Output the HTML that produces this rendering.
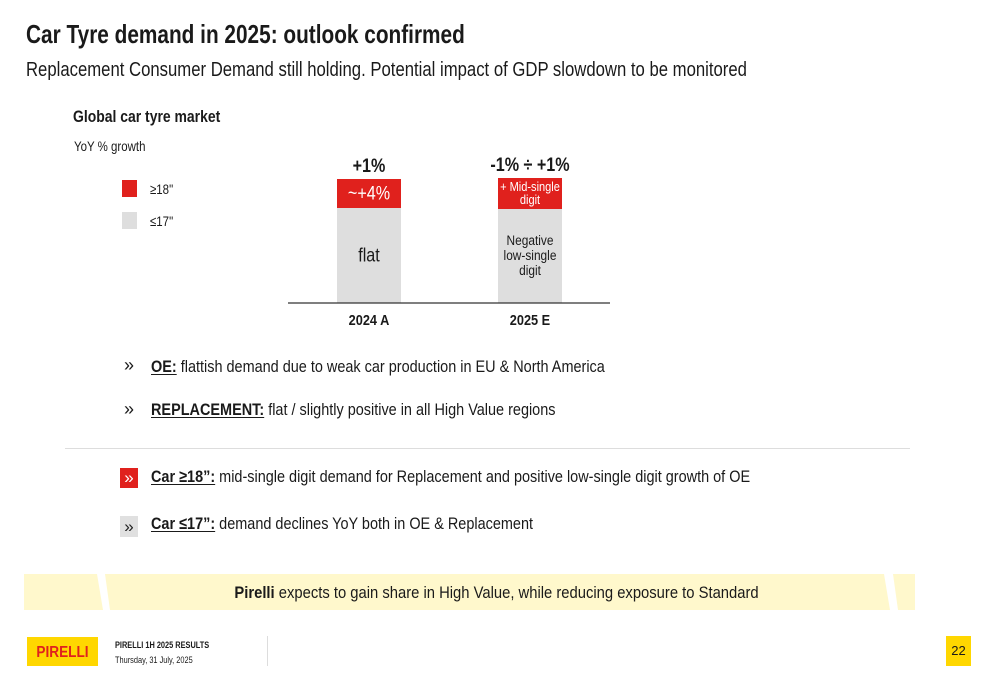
<!DOCTYPE html>
<html><head><meta charset="utf-8"><style>
*{margin:0;padding:0;box-sizing:border-box}
body{width:1000px;height:685px;background:#fff;position:relative;overflow:hidden;font-family:"Liberation Sans",sans-serif;color:#1a1a1a}
.a{position:absolute;white-space:nowrap}
.n{transform:scaleX(0.82);transform-origin:0 0}
.b{transform:scaleX(0.85);transform-origin:0 0}
.nc{transform:scaleX(0.85);transform-origin:50% 0}
u{text-decoration-thickness:1px;text-underline-offset:2px}
</style></head><body>
<div class="a n" style="left:26px;top:19px;font-size:26px;font-weight:bold;transform:scaleX(0.8)">Car Tyre demand in 2025: outlook confirmed</div>
<div class="a n" style="left:26px;top:59px;font-size:20px;transform:scaleX(0.835)">Replacement Consumer Demand still holding. Potential impact of GDP slowdown to be monitored</div>
<div class="a n" style="left:73px;top:107px;font-size:17px;font-weight:bold">Global car tyre market</div>
<div class="a n" style="left:74px;top:138px;font-size:14px">YoY % growth</div>
<div class="a" style="left:122px;top:180px;width:15px;height:17px;background:#e0211d"></div>
<div class="a n" style="left:150px;top:181px;font-size:14px">≥18"</div>
<div class="a" style="left:122px;top:212px;width:15px;height:17px;background:#dedede"></div>
<div class="a n" style="left:150px;top:213px;font-size:14px">≤17"</div>
<svg class="a" style="left:0;top:0" width="1000" height="340" id="chart"></svg>
<script>
const categories=["2024 A","2025 E"];
const base17=[95,94];
const high18=[29,31];
const totals=["+1%","-1% ÷ +1%"];
const lab17=[["flat"],["Negative","low-single","digit"]];
const lab18=[["~+4%"],["+ Mid-single","digit"]];
const svg=document.getElementById('chart');
const NS="http://www.w3.org/2000/svg";
const y0=303, scale=1, bw=64;
const xc=i=>369+i*161;
const yv=v=>y0-v*scale;
function mk(t,a,txt){const e=document.createElementNS(NS,t);for(const k in a)e.setAttribute(k,a[k]);if(txt!=null)e.textContent=txt;svg.appendChild(e);return e;}
function nar(x){return 'translate('+x+',0) scale(0.85,1) translate('+(-x)+',0)';}
categories.forEach((c,i)=>{
  const x=xc(i)-bw/2;
  const g=mk('rect',{x:x,y:yv(base17[i]),width:bw,height:base17[i]*scale,fill:'#dedede'});
  
  
  const r=mk('rect',{x:x,y:yv(base17[i]+high18[i]),width:bw,height:high18[i]*scale,fill:'#e0211d'});
  
  
  const gm=yv(base17[i]/2), n=lab17[i].length, big=n===1;
  lab17[i].forEach((s,j)=>{const t=mk('text',{x:xc(i),y:gm+(j-(n-1)/2)*15+(big?6:4),'text-anchor':'middle','font-size':big?19:14,fill:'#1a1a1a',transform:nar(xc(i))},s);
    
    });
  const rm=yv(base17[i]+high18[i]/2), m=lab18[i].length, big2=m===1;
  lab18[i].forEach((s,j)=>{const t=mk('text',{x:xc(i),y:rm+(j-(m-1)/2)*13+(big2?6:4),'text-anchor':'middle','font-size':big2?19:13,fill:'#fff',transform:nar(xc(i))},s);
    
    });
  const tt=mk('text',{x:xc(i),y:yv(base17[i]+high18[i])-7,'text-anchor':'middle','font-size':19,'font-weight':'bold',fill:'#1a1a1a',transform:nar(xc(i))},totals[i]);
  
  
  const cl=mk('text',{x:xc(i),y:y0+22,'text-anchor':'middle','font-size':15,'font-weight':'bold',fill:'#1a1a1a',transform:nar(xc(i))},c);
  
  
});
const ax=mk('line',{x1:288,x2:610,y1:y0,y2:y0,stroke:'#333','stroke-width':1.2});


</script>
<div class="a" style="left:124px;top:355px;font-size:18px">»</div>
<div class="a b" style="left:151px;top:357px;font-size:17px"><b><u>OE:</u></b> flattish demand due to weak car production in EU &amp; North America</div>
<div class="a" style="left:124px;top:399px;font-size:18px">»</div>
<div class="a b" style="left:151px;top:400px;font-size:17px"><b><u>REPLACEMENT:</u></b> flat / slightly positive in all High Value regions</div>
<div class="a" style="left:65px;top:448px;width:845px;height:1px;background:#ddd"></div>
<div class="a" style="left:120px;top:468px;width:18px;height:20px;background:#e0211d;color:#fff;font-size:17px;line-height:19px;text-align:center">»</div>
<div class="a b" style="left:151px;top:467px;font-size:17px"><b><u>Car ≥18”:</u></b> mid-single digit demand for Replacement and positive low-single digit growth of OE</div>
<div class="a" style="left:120px;top:516px;width:18px;height:21px;background:#e0e0e0;color:#222;font-size:17px;line-height:21px;text-align:center">»</div>
<div class="a b" style="left:151px;top:514px;font-size:17px"><b><u>Car ≤17”:</u></b> demand declines YoY both in OE &amp; Replacement</div>
<svg class="a" style="left:0;top:572px" width="1000" height="40">
<polygon points="24,2 97,2 103,38 24,38" fill="#fff8cc"/>
<polygon points="105,2 884,2 890,38 110,38" fill="#fff8cc"/>
<polygon points="893,2 915,2 915,38 898,38" fill="#fff8cc"/>
</svg>
<div class="a nc" style="left:0;width:993px;text-align:center;top:583px;font-size:17px;transform:scaleX(0.87)"><b>Pirelli</b> expects to gain share in High Value, while reducing exposure to Standard</div>
<div class="a" style="left:27px;top:637px;height:29px;background:#ffd700;width:71px"><div class="nc" style="position:absolute;left:0;top:8px;width:71px;height:15px;color:#e0211d;font-weight:bold;font-size:16px;line-height:15px;text-align:center">PIRELLI</div></div>
<div class="a n" style="left:115px;top:640px;font-size:9px;font-weight:bold">PIRELLI 1H 2025 RESULTS</div>
<div class="a n" style="left:115px;top:655px;font-size:9px">Thursday, 31 July, 2025</div>
<div class="a" style="left:267px;top:636px;width:1px;height:30px;background:#ddd"></div>
<div class="a" style="left:946px;top:636px;width:25px;height:30px;background:#ffd700;font-size:13px;line-height:30px;text-align:center">22</div>
</body></html>
